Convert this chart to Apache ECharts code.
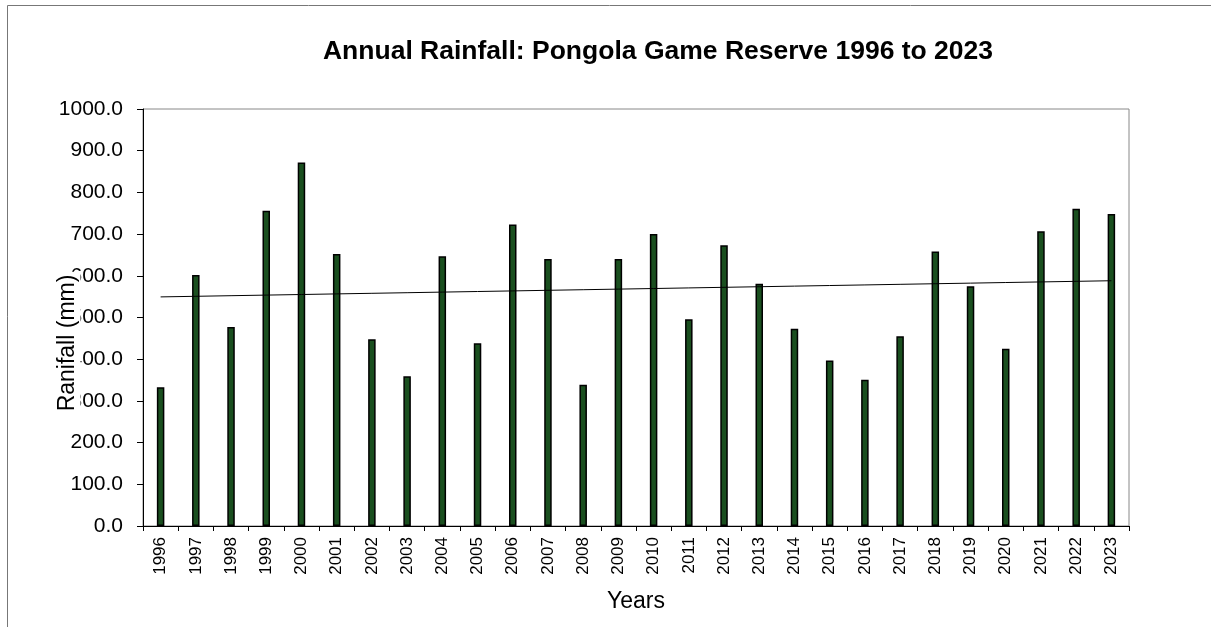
<!DOCTYPE html>
<html>
<head>
<meta charset="utf-8">
<script src="https://cdn.jsdelivr.net/npm/echarts@6/dist/echarts.min.js"></script>
<style>
html,body{margin:0;padding:0;background:#fff;}
#chart{width:1211px;height:627px;}
</style>
</head>
<body>
<div id="chart"></div>
<script>
const years = ['1996','1997','1998','1999','2000','2001','2002','2003','2004','2005','2006','2007','2008','2009','2010','2011','2012','2013','2014','2015','2016','2017','2018','2019','2020','2021','2022','2023'];
const rainfall = [333,602,477,756,872,652,448,359,647,438,723,640,339,640,700,496,673,581,473,397,351,455,658,575,425,707,761,748];
const yTicks = [0,100,200,300,400,500,600,700,800,900,1000];

// linear trend (least squares) of the rainfall series
const n = rainfall.length;
let sx=0, sy=0, sxy=0, sxx=0;
rainfall.forEach((v,i)=>{sx+=i; sy+=v; sxy+=i*v; sxx+=i*i;});
const slope = (n*sxy - sx*sy)/(n*sxx - sx*sx);
const intercept = (sy - slope*sx)/n;
const trend = rainfall.map((v,i)=> +(intercept + slope*i).toFixed(2));

const FONT = '"Liberation Sans", Arial, sans-serif';
const chart = echarts.init(document.getElementById('chart'));
chart.setOption({
  animation:false,
  backgroundColor:'#fff',
  graphic:[{
    type:'rect', left:5, top:3, silent:true,
    shape:{width:1204, height:640},
    style:{fill:'none', stroke:'#777', lineWidth:1}
  },{
    type:'text', x:68, y:343, rotation:Math.PI/2, z:100, silent:true,
    style:{
      text:'Ranifall (mm)', fontFamily:FONT, fontSize:23, fill:'#000',
      align:'center', verticalAlign:'middle',
      backgroundColor:'#fff', padding:[1,3,1,3]
    }
  }],
  title:{
    text:'Annual Rainfall: Pongola Game Reserve 1996 to 2023',
    left:653, top:33, textAlign:'center',
    textStyle:{fontFamily:FONT, fontSize:26.5, fontWeight:'bold', color:'#000'}
  },
  grid:{left:143, right:82, top:109, bottom:101, show:true, borderColor:'#888', borderWidth:1, backgroundColor:'transparent'},
  xAxis:{
    type:'category', data:years,
    name:'Years', nameLocation:'middle', nameGap:64,
    nameTextStyle:{fontFamily:FONT, fontSize:23, color:'#000'},
    axisLine:{lineStyle:{color:'#000', width:1}},
    axisTick:{show:true, alignWithLabel:false, length:5, lineStyle:{color:'#000'}},
    axisLabel:{rotate:90, fontFamily:FONT, fontSize:17, color:'#000', margin:11, interval:0}
  },
  yAxis:{
    type:'value', min:0, max:1000, interval:100,
    axisLine:{show:true, lineStyle:{color:'#000', width:1}},
    axisTick:{show:true, length:6, lineStyle:{color:'#000'}},
    splitLine:{show:false},
    axisLabel:{fontFamily:FONT, fontSize:21, color:'#000', margin:20,
      formatter:v=> yTicks.includes(v) ? v.toFixed(1) : ''}
  },
  series:[
    {
      type:'bar', data:rainfall, barWidth:7.5,
      itemStyle:{color:'#1a4f1f', borderColor:'#000', borderWidth:1.5},
      z:2
    },
    {
      type:'line', data:trend, showSymbol:false, symbol:'none',
      lineStyle:{color:'#000', width:1}, z:3
    }
  ]
});
</script>
</body>
</html>
